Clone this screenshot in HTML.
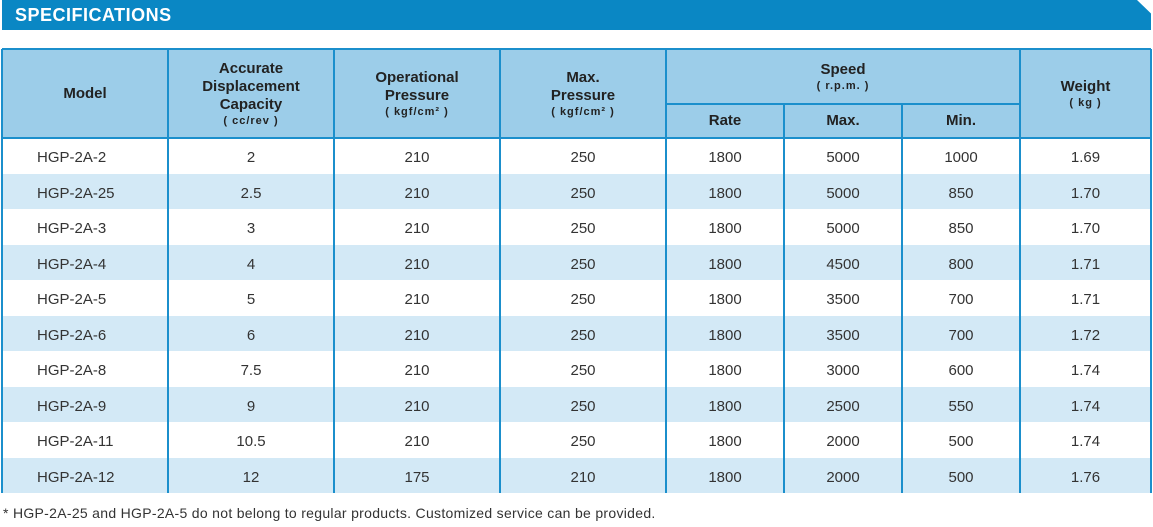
<!DOCTYPE html><html><head><style>
body{margin:0;width:1153px;height:527px;background:#fff;font-family:"Liberation Sans",sans-serif;position:relative;overflow:hidden}
.ban{position:absolute;left:2px;top:0;width:1149px;height:30px;background:#0a87c4;clip-path:polygon(0 0,1135px 0,100% 45%,100% 100%,0 100%);}
.ban span{position:absolute;left:13px;top:5px;color:#fff;font-weight:bold;font-size:18px;letter-spacing:0.5px}
.c{position:absolute;display:flex;flex-direction:column;align-items:center;justify-content:center;text-align:center;box-sizing:border-box;color:#333}
.h{background:#9ccde9;font-weight:bold;font-size:15px;line-height:18px;color:#222}
.h small{font-size:11px;font-weight:bold;line-height:14px;letter-spacing:1px}
.d{font-size:15px;color:#333;padding-top:4px}
.vl{position:absolute;width:2px;background:#1b8fcc}
.hl{position:absolute;height:2px;background:#1b8fcc}
.foot{position:absolute;left:3px;top:505px;font-size:14px;color:#333;letter-spacing:0.3px}
</style></head><body>
<div class="ban"><span>SPECIFICATIONS</span></div>
<div id="t"></div>
<div class="foot">* HGP-2A-25 and HGP-2A-5 do not belong to regular products. Customized service can be provided.</div>
<script>
const xs=[2,168,334,500,666,784,902,1020,1151];
const t=document.getElementById('t');let h='';
function cell(x,y,w,hh,cls,html,extra){h+=`<div class="c ${cls}" style="left:${x}px;top:${y}px;width:${w}px;height:${hh}px;${extra||''}">${html}</div>`;}
cell(2,49,1149,89,'h','');
cell(2,49,166,89,'h','Model');
cell(168,49,166,89,'h','Accurate<br>Displacement<br>Capacity<small>( cc/rev )</small>');
cell(334,49,166,89,'h','Operational<br>Pressure<small>( kgf/cm² )</small>');
cell(500,49,166,89,'h','Max.<br>Pressure<small>( kgf/cm² )</small>');
cell(666,49,354,55,'h','Speed<small>( r.p.m. )</small>');
cell(666,104,118,34,'h','Rate');cell(784,104,118,34,'h','Max.');cell(902,104,118,34,'h','Min.');
cell(1020,49,131,89,'h','Weight<small>( kg )</small>');
const rows=[["HGP-2A-2","2","210","250","1800","5000","1000","1.69"],["HGP-2A-25","2.5","210","250","1800","5000","850","1.70"],["HGP-2A-3","3","210","250","1800","5000","850","1.70"],["HGP-2A-4","4","210","250","1800","4500","800","1.71"],["HGP-2A-5","5","210","250","1800","3500","700","1.71"],["HGP-2A-6","6","210","250","1800","3500","700","1.72"],["HGP-2A-8","7.5","210","250","1800","3000","600","1.74"],["HGP-2A-9","9","210","250","1800","2500","550","1.74"],["HGP-2A-11","10.5","210","250","1800","2000","500","1.74"],["HGP-2A-12","12","175","210","1800","2000","500","1.76"]];
rows.forEach((r,i)=>{const y=138+i*35.5;const bg=i%2?'background:#d3e9f6;':'';
cell(2,y,1149,35.5,'d','',bg);
r.forEach((v,j)=>{if(j==0)cell(2,y,166,35.5,'d',v,'align-items:flex-start;padding-left:35px;');else cell(xs[j],y,xs[j+1]-xs[j],35.5,'d',v);});});
xs.forEach((x,i)=>{const top=(i>4&&i<7)?104:49;h+=`<div class="vl" style="left:${x-1}px;top:${top}px;height:${493-top}px"></div>`;});
h+=`<div class="hl" style="left:2px;top:48px;width:1149px"></div>`;
h+=`<div class="hl" style="left:666px;top:103px;width:354px"></div>`;
h+=`<div class="hl" style="left:2px;top:137px;width:1149px"></div>`;
t.innerHTML=h;
</script>
</body></html>
